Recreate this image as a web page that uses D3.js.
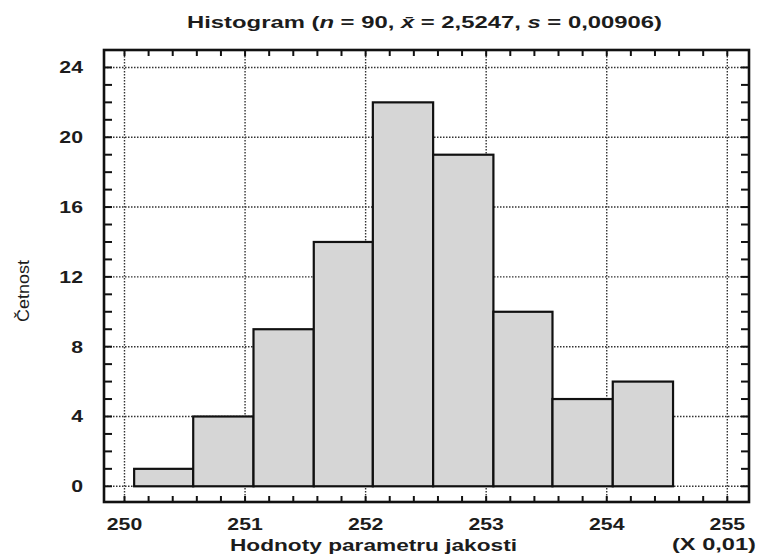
<!DOCTYPE html>
<html>
<head>
<meta charset="utf-8">
<script src="https://cdn.jsdelivr.net/npm/d3@7"></script>
<style>
    body { margin: 0; background: #fff; }
    text { font-family: "Liberation Sans", Arial, sans-serif; fill: #1c1c1c; }
</style>
</head>
<body>
<div id="plot"></div>
<script>
"use strict";

//
//   DATA
//

var binEdges = [250.08, 250.57, 251.07, 251.57, 252.06, 252.56, 253.06, 253.55, 254.05, 254.55];
var counts = [1, 4, 9, 14, 22, 19, 10, 5, 6];
var xTicks = [250, 251, 252, 253, 254, 255];
var yTicks = [0, 4, 8, 12, 16, 20, 24];

//
//   CONSTANTS
//

var WIDTH = 760;
var HEIGHT = 558;
var FRAME = { left: 104, right: 749, top: 50, bottom: 502 };
var STRETCH = 1.25; // scanned text looks wide

var svg = d3.select("#plot").append("svg")
    .attr("width", WIDTH)
    .attr("height", HEIGHT);

var scaleX = d3.scaleLinear().domain([249.83, 255.18]).range([FRAME.left, FRAME.right]);
var scaleY = d3.scaleLinear().domain([-0.9, 25]).range([FRAME.bottom, FRAME.top]);

var bins = counts.map(function (c, i) {
    return { x0: binEdges[i], x1: binEdges[i + 1], count: c };
});

drawGrid();
drawBars();
drawTicks();
drawFrame();
drawLabels();

//
//   CHART
//

function drawGrid() {
    // dotted gridlines at major values
    svg.selectAll("line.gridX").data(xTicks).enter().append("line")
        .attr("class", "gridX")
        .attr("x1", function (d) { return scaleX(d); })
        .attr("x2", function (d) { return scaleX(d); })
        .attr("y1", FRAME.top)
        .attr("y2", FRAME.bottom)
        .style("stroke", "#333")
        .style("stroke-width", 1.4)
        .style("stroke-dasharray", "1.5,1.5");

    svg.selectAll("line.gridY").data(yTicks).enter().append("line")
        .attr("class", "gridY")
        .attr("x1", FRAME.left)
        .attr("x2", FRAME.right)
        .attr("y1", function (d) { return scaleY(d); })
        .attr("y2", function (d) { return scaleY(d); })
        .style("stroke", "#333")
        .style("stroke-width", 1.4)
        .style("stroke-dasharray", "1.5,1.5");
}

function drawBars() {
    svg.selectAll("rect.bar").data(bins).enter().append("rect")
        .attr("class", "bar")
        .attr("x", function (d) { return scaleX(d.x0); })
        .attr("width", function (d) { return scaleX(d.x1) - scaleX(d.x0); })
        .attr("y", function (d) { return scaleY(d.count); })
        .attr("height", function (d) { return scaleY(0) - scaleY(d.count); })
        .style("fill", "#d6d6d6")
        .style("stroke", "#111")
        .style("stroke-width", 2.2);
}

function drawTicks() {
    // minor ticks, pointing inside, on all four sides
    var xMinor = d3.range(250, 255.01, 0.2);
    var yMinor = d3.range(0, 25, 1);
    var tx = 6, ty = 8;

    var ticks = svg.append("g").style("stroke", "#111").style("stroke-width", 2);
    xMinor.forEach(function (v) {
        var x = scaleX(v);
        ticks.append("line").attr("x1", x).attr("x2", x).attr("y1", FRAME.bottom).attr("y2", FRAME.bottom - tx);
        ticks.append("line").attr("x1", x).attr("x2", x).attr("y1", FRAME.top).attr("y2", FRAME.top + tx);
    });
    yMinor.forEach(function (v) {
        var y = scaleY(v);
        ticks.append("line").attr("x1", FRAME.left).attr("x2", FRAME.left + ty).attr("y1", y).attr("y2", y);
        ticks.append("line").attr("x1", FRAME.right).attr("x2", FRAME.right - ty).attr("y1", y).attr("y2", y);
    });
}

function drawFrame() {
    svg.append("rect")
        .attr("x", FRAME.left)
        .attr("y", FRAME.top)
        .attr("width", FRAME.right - FRAME.left)
        .attr("height", FRAME.bottom - FRAME.top)
        .style("fill", "none")
        .style("stroke", "#111")
        .style("stroke-width", 2.6);
}

function drawLabels() {
    // tick labels
    xTicks.forEach(function (v) {
        stretchedText(scaleX(v), 530, String(v), "middle");
    });
    yTicks.forEach(function (v) {
        stretchedText(83, scaleY(v) + 6, String(v), "end");
    });

    // title
    var title = svg.append("text")
        .attr("x", 187)
        .attr("y", 28)
        .attr("textLength", 475)
        .attr("lengthAdjust", "spacingAndGlyphs")
        .style("font-size", "17px")
        .style("font-weight", "bold");
    title.append("tspan").text("Histogram (");
    title.append("tspan").style("font-style", "italic").text("n");
    title.append("tspan").text(" = 90, ");
    title.append("tspan").style("font-style", "italic").text("x\u0304");
    title.append("tspan").text(" = 2,5247, ");
    title.append("tspan").style("font-style", "italic").text("s");
    title.append("tspan").text(" = 0,00906)");

    // axis titles
    svg.append("text")
        .attr("x", 230)
        .attr("y", 551)
        .attr("textLength", 287)
        .attr("lengthAdjust", "spacingAndGlyphs")
        .style("font-size", "17px")
        .style("font-weight", "bold")
        .text("Hodnoty parametru jakosti");

    svg.append("text")
        .attr("x", 672)
        .attr("y", 550)
        .attr("textLength", 84)
        .attr("lengthAdjust", "spacingAndGlyphs")
        .style("font-size", "17px")
        .style("font-weight", "bold")
        .text("(X 0,01)");

    svg.append("text")
        .attr("transform", "translate(29,322) rotate(-90)")
        .attr("textLength", 62)
        .attr("lengthAdjust", "spacingAndGlyphs")
        .style("font-size", "16px")
        .text("Četnost");
}

//
//   HELPERS
//

function stretchedText(x, y, str, anchor) {
    svg.append("text")
        .attr("transform", "translate(" + x + "," + y + ") scale(" + STRETCH + ",1)")
        .attr("text-anchor", anchor)
        .style("font-size", "17px")
        .style("font-weight", "bold")
        .text(str);
}
</script>
</body>
</html>
